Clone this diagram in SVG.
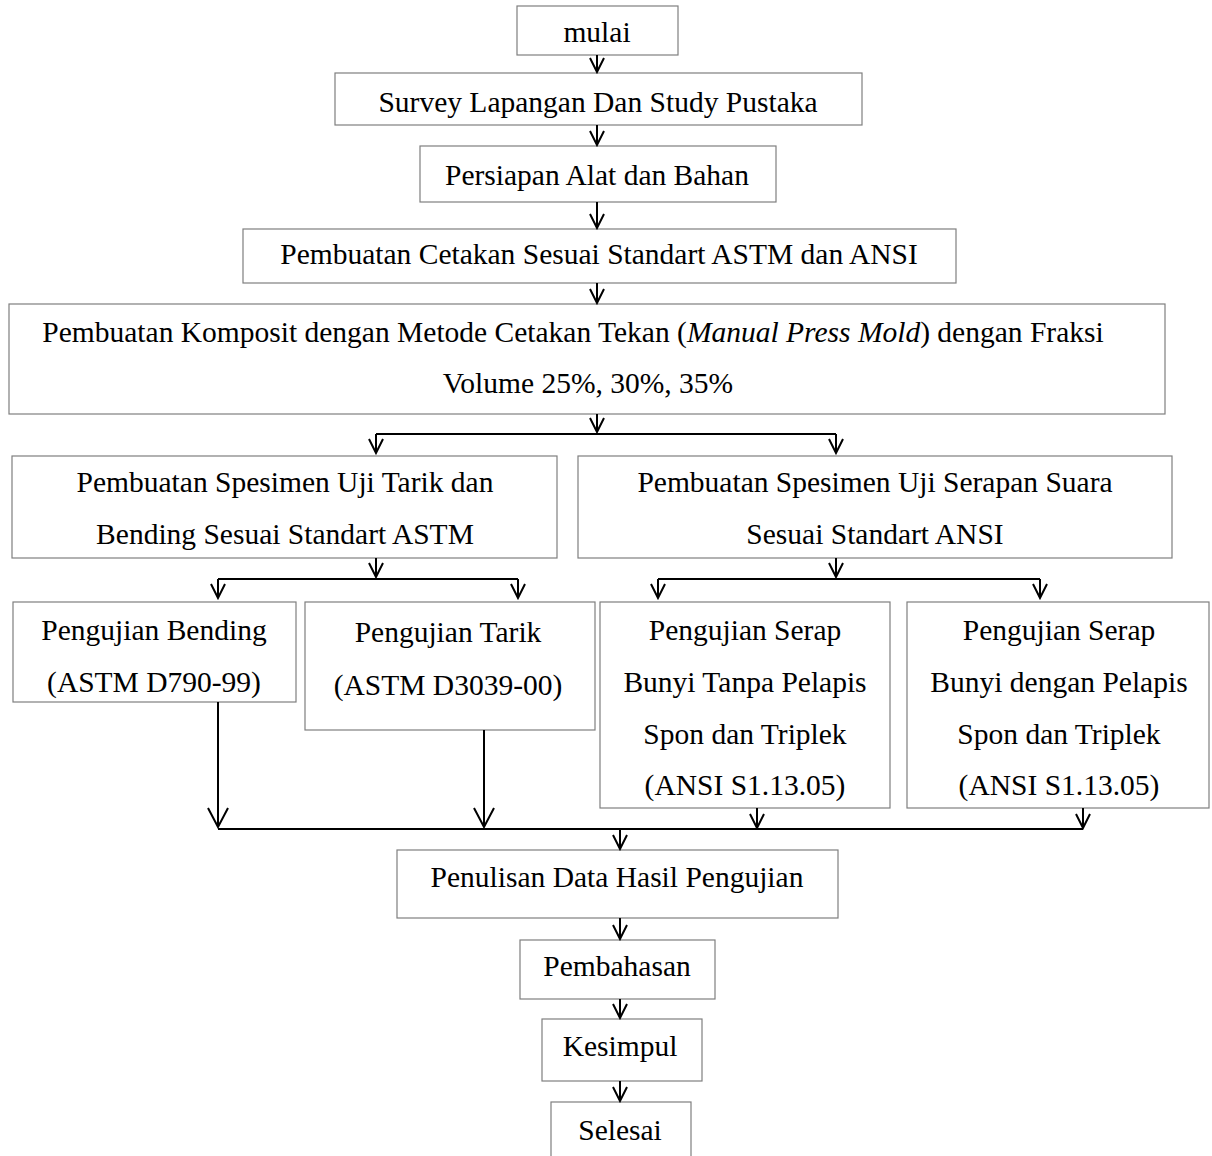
<svg xmlns="http://www.w3.org/2000/svg" width="1212" height="1156" viewBox="0 0 1212 1156">
<style>
.box{fill:#fff;stroke:#7f7f7f;stroke-width:1.2}
.t{font-family:"Liberation Serif","Times New Roman",serif;font-size:29.5px;fill:#000;text-anchor:middle}
.c{fill:none;stroke:#000;stroke-width:2}
</style>
<defs>
<marker id="v" markerUnits="userSpaceOnUse" markerWidth="18" markerHeight="16" refX="16" refY="8" orient="auto" viewBox="0 0 18 16">
<path d="M2,1 L16,8 L2,15" fill="none" stroke="#000" stroke-width="2"/>
</marker>
<marker id="vb" markerUnits="userSpaceOnUse" markerWidth="22" markerHeight="22" refX="20" refY="11" orient="auto" viewBox="0 0 22 22">
<path d="M1,1 L20,11 L1,21" fill="none" stroke="#000" stroke-width="2"/>
</marker>
</defs>
<rect width="1212" height="1156" fill="#fff"/>
<g id="n1"><rect class="box" x="517" y="6" width="161" height="49"/><text class="t" x="597" y="42">mulai</text></g>
<g id="n2"><rect class="box" x="335" y="73" width="527" height="52"/><text class="t" x="598" y="112">Survey Lapangan Dan Study Pustaka</text></g>
<g id="n3"><rect class="box" x="420" y="146" width="356" height="56"/><text class="t" x="597" y="185">Persiapan Alat dan Bahan</text></g>
<g id="n4"><rect class="box" x="243" y="229" width="713" height="54"/><text class="t" x="599" y="264">Pembuatan Cetakan Sesuai Standart ASTM dan ANSI</text></g>
<g id="n5"><rect class="box" x="9" y="304" width="1156" height="110"/><text class="t" x="573" y="342">Pembuatan Komposit dengan Metode Cetakan Tekan (<tspan font-style="italic">Manual Press Mold</tspan>) dengan Fraksi</text><text class="t" x="588" y="393">Volume 25%, 30%, 35%</text></g>
<g id="n6"><rect class="box" x="12" y="456" width="545" height="102"/><text class="t" x="285" y="492">Pembuatan Spesimen Uji Tarik dan</text><text class="t" x="285" y="544">Bending Sesuai Standart ASTM</text></g>
<g id="n7"><rect class="box" x="578" y="456" width="594" height="102"/><text class="t" x="875" y="492">Pembuatan Spesimen Uji Serapan Suara</text><text class="t" x="875" y="544">Sesuai Standart ANSI</text></g>
<g id="n8"><rect class="box" x="13" y="602" width="283" height="100"/><text class="t" x="154" y="640">Pengujian Bending</text><text class="t" x="154" y="692">(ASTM D790-99)</text></g>
<g id="n9"><rect class="box" x="305" y="602" width="290" height="128"/><text class="t" x="448" y="642">Pengujian Tarik</text><text class="t" x="448" y="695">(ASTM D3039-00)</text></g>
<g id="n10"><rect class="box" x="600" y="602" width="290" height="206"/><text class="t" x="745" y="640">Pengujian Serap</text><text class="t" x="745" y="692">Bunyi Tanpa Pelapis</text><text class="t" x="745" y="744">Spon dan Triplek</text><text class="t" x="745" y="795">(ANSI S1.13.05)</text></g>
<g id="n11"><rect class="box" x="907" y="602" width="302" height="206"/><text class="t" x="1059" y="640">Pengujian Serap</text><text class="t" x="1059" y="692">Bunyi dengan Pelapis</text><text class="t" x="1059" y="744">Spon dan Triplek</text><text class="t" x="1059" y="795">(ANSI S1.13.05)</text></g>
<g id="n12"><rect class="box" x="397" y="850" width="441" height="68"/><text class="t" x="617" y="887">Penulisan Data Hasil Pengujian</text></g>
<g id="n13"><rect class="box" x="520" y="940" width="195" height="59"/><text class="t" x="617" y="976">Pembahasan</text></g>
<g id="n14"><rect class="box" x="542" y="1019" width="160" height="62"/><text class="t" x="620" y="1056">Kesimpul</text></g>
<g id="n15"><rect class="box" x="551" y="1102" width="140" height="60"/><text class="t" x="620" y="1140">Selesai</text></g>
<g id="connectors">
<path class="c" d="M597,55 V72" marker-end="url(#v)"/>
<path class="c" d="M597,125 V145" marker-end="url(#v)"/>
<path class="c" d="M597,202 V228" marker-end="url(#v)"/>
<path class="c" d="M597,283 V303" marker-end="url(#v)"/>
<path class="c" d="M597,414 V432" marker-end="url(#v)"/>
<path class="c" d="M376,434 H836"/>
<path class="c" d="M376,434 V453" marker-end="url(#v)"/>
<path class="c" d="M836,434 V453" marker-end="url(#v)"/>
<path class="c" d="M376,558 V577" marker-end="url(#v)"/>
<path class="c" d="M218,579 H518"/>
<path class="c" d="M218,579 V598" marker-end="url(#v)"/>
<path class="c" d="M518,579 V598" marker-end="url(#v)"/>
<path class="c" d="M836,558 V577" marker-end="url(#v)"/>
<path class="c" d="M658,579 H1040"/>
<path class="c" d="M658,579 V598" marker-end="url(#v)"/>
<path class="c" d="M1040,579 V598" marker-end="url(#v)"/>
<path class="c" d="M218,702 V827" marker-end="url(#vb)"/>
<path class="c" d="M484,730 V827" marker-end="url(#vb)"/>
<path class="c" d="M757,808 V828" marker-end="url(#v)"/>
<path class="c" d="M1083,808 V828" marker-end="url(#v)"/>
<path class="c" d="M218,829 H1083"/>
<path class="c" d="M620,829 V849" marker-end="url(#v)"/>
<path class="c" d="M620,918 V939" marker-end="url(#v)"/>
<path class="c" d="M620,999 V1018" marker-end="url(#v)"/>
<path class="c" d="M620,1081 V1101" marker-end="url(#v)"/>
</g>
</svg>
